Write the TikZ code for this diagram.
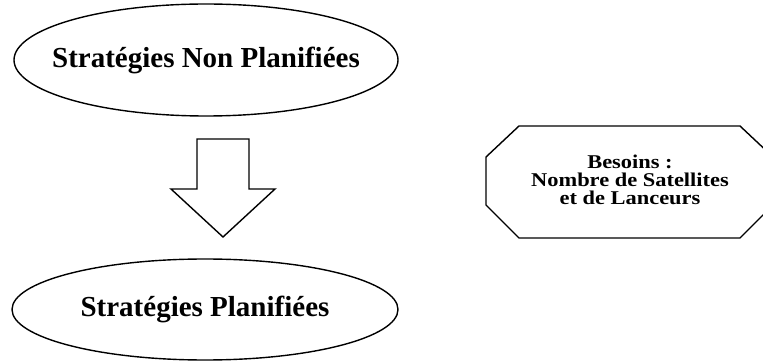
\documentclass[tikz,border=0pt]{standalone}
\usepackage{fontspec}
\setmainfont{Liberation Serif}
\newfontfamily\widefont{Liberation Serif}[FakeStretch=1.15]
\usetikzlibrary{shapes.geometric}
\begin{document}
\begin{tikzpicture}[x=1pt,y=-1pt,
  outline/.style={draw=black, line width=1.4pt, line join=miter},
  oval/.style={outline, ellipse, inner sep=0pt,
    font=\fontsize{29}{32}\selectfont\bfseries},
  notetext/.style={align=center, inner sep=0pt,
    font=\widefont\fontsize{19.5}{18}\selectfont\bfseries}]
  \useasboundingbox (0,0) rectangle (763,363);
  \clip (0,0) rectangle (763,363);

  % the two strategy ovals
  \node[oval, minimum width=384pt, minimum height=112pt] (nonplan) at (206,60)
    {\makebox[0pt]{Stratégies Non Planifiées}};
  \node[oval, minimum width=386pt, minimum height=101pt] (plan) at (205,309.5)
    {\makebox[0pt]{Stratégies Planifiées}};

  % block arrow between them
  \coordinate (tip) at (223,237);
  \draw[outline] (197,139) -- (249,139) -- (249,189) -- (275,189) -- (tip)
    -- (171,189) -- (197,189) -- cycle;

  % chamfered box on the right (runs past the edge)
  \draw[outline] (519,126) -- (740,126) -- (773,157) -- (773,205) -- (740,238)
    -- (519,238) -- (486,205) -- (486,157) -- cycle;
  \node[notetext] (besoins) at (630,180)
    {Besoins :\\Nombre de Satellites\\et de Lanceurs};
\end{tikzpicture}
\end{document}
